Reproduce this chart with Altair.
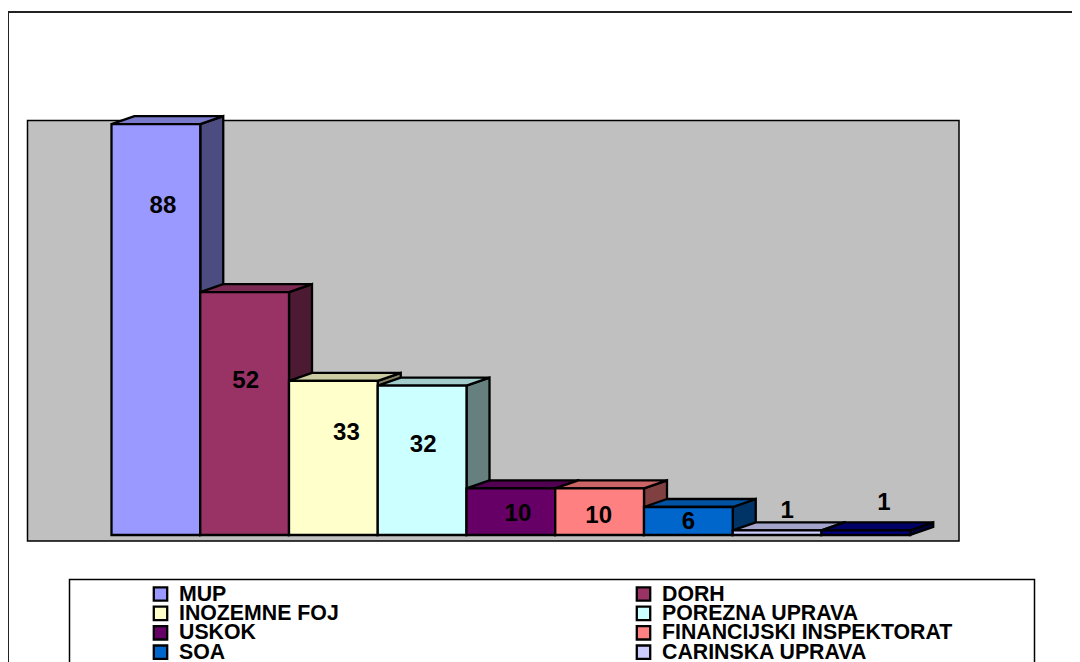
import altair as alt
import pandas as pd

names = ["MUP", "DORH", "INOZEMNE FOJ", "POREZNA UPRAVA", "USKOK",
         "FINANCIJSKI INSPEKTORAT", "SOA", "CARINSKA UPRAVA", " "]
values = [88, 52, 33, 32, 10, 10, 6, 1, 1]
colors = ["#9999FF", "#993366", "#FFFFCC", "#CCFFFF", "#660066",
          "#FF8080", "#0066CC", "#CCCCFF", "#000080"]
label_offsets = [(7, 82), (1, 89), (13, 52), (1, 59), (7, 26),
                 (-1, 28), (0, 15), (10, -19), (18, -27)]

W, H = 1064, 654
SLOT, PX_PER_UNIT = 88.75, 4.67
X0, Y0 = 103.5, 527.0
DX, DY = 23 / SLOT, 8 / PX_PER_UNIT
FONT = "Liberation Sans"
EDGE = 2.3
LEGEND_COLS = [152.5, 635.5]
LEGEND_TOP, LEGEND_STEP = 586.0, 19.4
LEGEND_GAP = 18.5


def shade(hex_color, k):
    r, g, b = (int(hex_color[i:i + 2], 16) for i in (1, 3, 5))
    return "#%02X%02X%02X" % (round(r * k), round(g * k), round(b * k))


xs = alt.Scale(domain=[-X0 / SLOT, (W - X0) / SLOT], nice=False, zero=False)
ys = alt.Scale(domain=[-(H - Y0) / PX_PER_UNIT, Y0 / PX_PER_UNIT], nice=False, zero=False)

front = pd.DataFrame({"name": names, "value": values, "color": colors,
                      "u": range(len(names))})
front["u2"] = front["u"] + 1
front["c"] = front["u"] + 0.5
front["zero"] = 0

side_rows, top_rows = [], []
for i, (n, v, c) in enumerate(zip(names, values, colors)):
    side_rows += [
        {"id": i, "x": i + 1, "y": v, "y2": 0, "fill": shade(c, 0.5)},
        {"id": i, "x": i + 1 + DX, "y": v + DY, "y2": DY, "fill": shade(c, 0.5)},
    ]
    top_rows += [
        {"id": i, "y": v, "x": i, "x2": i + 1, "fill": shade(c, 0.8)},
        {"id": i, "y": v + DY, "x": i + DX, "x2": i + 1 + DX, "fill": shade(c, 0.8)},
    ]
side = pd.DataFrame(side_rows)
top = pd.DataFrame(top_rows)

blank = pd.DataFrame({"k": [0]})


def box(x, x2, y, y2, **kw):
    return alt.Chart(blank).mark_rect(**kw).encode(
        x=alt.value(x), x2=alt.value(x2), y=alt.value(y), y2=alt.value(y2))


frame = box(0, 1200, 4, 800, fill="white", stroke="#222222", strokeWidth=2)
plot_bg = box(19.5, 951, 112.5, 533, fill="#C0C0C0", stroke="black", strokeWidth=1.5)
legend_bg = box(61.5, 1026.5, 571.5, 680, fill="white", stroke="black", strokeWidth=1.5)

sides = alt.Chart(side).mark_area(stroke="black", strokeWidth=EDGE, orient="vertical").encode(
    x=alt.X("x:Q", scale=xs, axis=None),
    y=alt.Y("y:Q", scale=ys, axis=None),
    y2="y2:Q",
    fill=alt.Fill("fill:N", scale=None),
    detail="id:N",
)
tops = alt.Chart(top).mark_area(stroke="black", strokeWidth=EDGE, orient="horizontal").encode(
    x=alt.X("x:Q", scale=xs, axis=None),
    x2="x2:Q",
    y=alt.Y("y:Q", scale=ys, axis=None),
    fill=alt.Fill("fill:N", scale=None),
    detail="id:N",
)
fronts = alt.Chart(front).mark_rect(stroke="black", strokeWidth=EDGE).encode(
    x=alt.X("u:Q", scale=xs, axis=None),
    x2="u2:Q",
    y=alt.Y("value:Q", scale=ys, axis=None),
    y2="zero:Q",
    fill=alt.Fill("color:N", scale=None),
)

labels = []
for i, (dx, dy) in enumerate(label_offsets):
    labels.append(
        alt.Chart(front.iloc[[i]]).mark_text(
            font=FONT, fontWeight="bold", fontSize=24, color="black",
            align="center", baseline="middle", dx=dx, dy=dy,
        ).encode(
            x=alt.X("c:Q", scale=xs, axis=None),
            y=alt.Y("value:Q", scale=ys, axis=None),
            text=alt.Text("value:Q"),
        )
    )

legend_marks = []
for i in range(8):
    row, col = i // 2, i % 2
    ly = LEGEND_TOP + row * LEGEND_STEP
    lx = LEGEND_COLS[col]
    legend_marks.append(
        alt.Chart(front.iloc[[i]]).mark_point(
            shape="square", size=180, filled=True, fill=colors[i], opacity=1,
            stroke="black", strokeWidth=EDGE,
        ).encode(x=alt.value(lx), y=alt.value(ly))
    )
    legend_marks.append(
        alt.Chart(front.iloc[[i]]).mark_text(
            font=FONT, fontWeight="bold", fontSize=21.3, color="black",
            align="left", baseline="middle",
        ).encode(x=alt.value(lx + LEGEND_GAP), y=alt.value(ly + 0.5), text="name:N")
    )

chart = alt.layer(frame, plot_bg, legend_bg, sides, tops, fronts, *labels, *legend_marks).properties(
    width=W, height=H, padding=0, background="white",
    autosize=alt.AutoSizeParams(type="none"),
).configure_view(stroke=None)

chart.save("out.html", embed_options={"renderer": "svg", "actions": False})
